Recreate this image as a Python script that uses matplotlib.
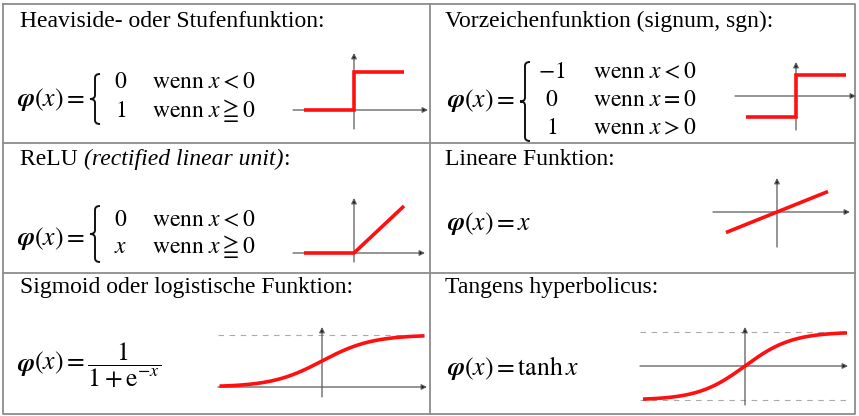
import numpy as np
import matplotlib.pyplot as plt
from matplotlib.path import Path
from matplotlib.patches import PathPatch

plt.rcParams['mathtext.fontset'] = 'stix'
plt.rcParams['font.family'] = ['Liberation Serif', 'DejaVu Serif']

W, H = 859, 416

# curve data
step_x = [-1, 0, 0, 1]
step_y = [0, 0, 1, 1]
sign_x = [-1, 0, 0, 1]
sign_y = [-1, -1, 1, 1]
relu_x = [-1, 0, 1]
relu_y = [0, 0, 1]
lin_x = [-1, 1]
lin_y = [-1, 1]
sigmoid_range = (-4.1, 4.1)
tanh_range = (-2.17, 2.17)

# text
titles = ["Heaviside- oder Stufenfunktion:",
          "Vorzeichenfunktion (signum, sgn):",
          None,
          "Lineare Funktion:",
          "Sigmoid oder logistische Funktion:",
          "Tangens hyperbolicus:"]
step_cases = [("0", r"x < 0"), ("1", r"x \geqq 0")]
sign_cases = [("-1", r"x < 0"), ("0", r"x = 0"), ("1", r"x > 0")]
relu_cases = [("0", r"x < 0"), ("x", r"x \geqq 0")]

FS = 17
FF = 18.5
RED = '#ff1010'
AXC = '#5a5a5a'

fig = plt.figure(figsize=(W / 100, H / 100), dpi=100)
ax = fig.add_axes([0, 0, 1, 1])
ax.set_xlim(0, W)
ax.set_ylim(H, 0)
ax.axis('off')
r = fig.canvas.get_renderer()

# table grid
bc = '#8c8c8c'
ax.plot([3, 855, 855, 3, 3], [4, 4, 414, 414, 4], color=bc, lw=1.3)
ax.plot([430, 430], [4, 414], color=bc, lw=1.3)
ax.plot([3, 855], [143, 143], color=bc, lw=1.3)
ax.plot([3, 855], [273, 273], color=bc, lw=1.3)


def seq(x, y, parts):
    # draw text pieces left to right
    for s, kw in parts:
        t = ax.text(x, y, s, va='baseline', ha='left', **kw)
        bb = t.get_window_extent(renderer=r)
        x = ax.transData.inverted().transform((bb.x1, bb.y0))[0]


# titles
title_pos = [(20, 27), (445, 27), (20, 165), (445, 165), (20, 293), (445, 293)]
for t, (x, y) in zip(titles, title_pos):
    if t:
        ax.text(x, y, t, fontsize=FS, va='baseline', ha='left')
seq(20, 165, [("ReLU ", dict(fontsize=FS)),
              ("(rectified linear unit)", dict(fontsize=FS, style='italic')),
              (":", dict(fontsize=FS))])


def phi(x, y, rest=""):
    seq(x, y, [("\u03c6", dict(fontsize=FF, family='STIXGeneral', style='italic', weight='bold')),
               (rf"$(x) = {rest}$", dict(fontsize=FF))])


def brace(x_tip, y_top, y_bot, w=10):
    xr, xm, ym = x_tip + w, x_tip + w / 2, (y_top + y_bot) / 2
    c = 4
    verts = [(xr, y_top), (xm + 1.5, y_top), (xm, y_top + 1.5), (xm, y_top + c),
             (xm, ym - c),
             (xm, ym - 1.5), (xm - 1.5, ym), (x_tip, ym),
             (xm - 1.5, ym), (xm, ym + 1.5), (xm, ym + c),
             (xm, y_bot - c),
             (xm, y_bot - 1.5), (xm + 1.5, y_bot), (xr, y_bot)]
    codes = [Path.MOVETO] + [Path.CURVE4] * 3 + [Path.LINETO] + [Path.CURVE4] * 6 \
        + [Path.LINETO] + [Path.CURVE4] * 3
    ax.add_patch(PathPatch(Path(verts, codes), fc='none', ec='#111111', lw=1.4))


def cases(rows, cx, wx, y0, dy):
    for i, (v, cond) in enumerate(rows):
        y = y0 + i * dy
        ax.text(cx, y, f"${v}$", fontsize=FS, ha='center', va='baseline')
        ax.text(wx, y, rf"$\mathrm{{wenn}}\ {cond}$", fontsize=FS, ha='left', va='baseline')


# formulas
phi(17, 106)
brace(90, 74, 124)
cases(step_cases, 121, 152, 88, 29)

phi(447, 107)
brace(520, 62, 141)
cases(sign_cases, 552, 593, 78, 28)

phi(17, 245)
brace(90, 206, 262)
cases(relu_cases, 121, 152, 226, 27)

phi(447, 230, "x")
phi(17, 371, r"\dfrac{1}{1+\mathrm{e}^{-x}}")
phi(447, 375, r"\tanh x")


def mini(x0, x1, y0, y1, ox, oy, sx, sy):
    a = fig.add_axes([x0 / W, 1 - y1 / H, (x1 - x0) / W, (y1 - y0) / H])
    a.set_xlim((x0 - ox) / sx, (x1 - ox) / sx)
    a.set_ylim((oy - y1) / sy, (oy - y0) / sy)
    a.axis('off')
    xl, yl = a.get_xlim(), a.get_ylim()
    ap = dict(arrowstyle='-|>', ec=AXC, fc='#111111', lw=0.9,
              shrinkA=0, shrinkB=0, mutation_scale=8)
    a.annotate('', xy=(xl[1], 0), xytext=(xl[0], 0), arrowprops=ap, zorder=2)
    a.annotate('', xy=(0, yl[1]), xytext=(0, yl[0]), arrowprops=ap, zorder=2)
    return a


def red(a, xs, ys):
    a.plot(xs, ys, color=RED, lw=2.6, zorder=3, clip_on=False,
           solid_joinstyle='miter', solid_capstyle='butt')


def dashed(a, y):
    a.plot(a.get_xlim(), [y, y], color='#aaaaaa', lw=0.8, ls=(0, (5, 5)), zorder=1)


a1 = mini(293, 428, 53, 129, 354, 110, 50, 38)
red(a1, step_x, step_y)

a2 = mini(735, 856, 62, 130, 796, 96, 50, 21)
red(a2, sign_x, sign_y)

a3 = mini(293, 425, 198, 262, 354, 253, 50, 47)
red(a3, relu_x, relu_y)

a4 = mini(713, 850, 178, 247, 777, 212, 51, 20.5)
red(a4, lin_x, lin_y)

a5 = mini(218, 427, 327, 397, 322, 387, 25, 52)
xs = np.linspace(*sigmoid_range, 200)
red(a5, xs, 1 / (1 + np.exp(-xs)))
dashed(a5, 1)

a6 = mini(640, 848, 327, 405, 745, 366, 47, 34)
xs = np.linspace(*tanh_range, 200)
red(a6, xs, np.tanh(xs))
dashed(a6, 1)
dashed(a6, -1)

fig.savefig('out.png', dpi=100)
